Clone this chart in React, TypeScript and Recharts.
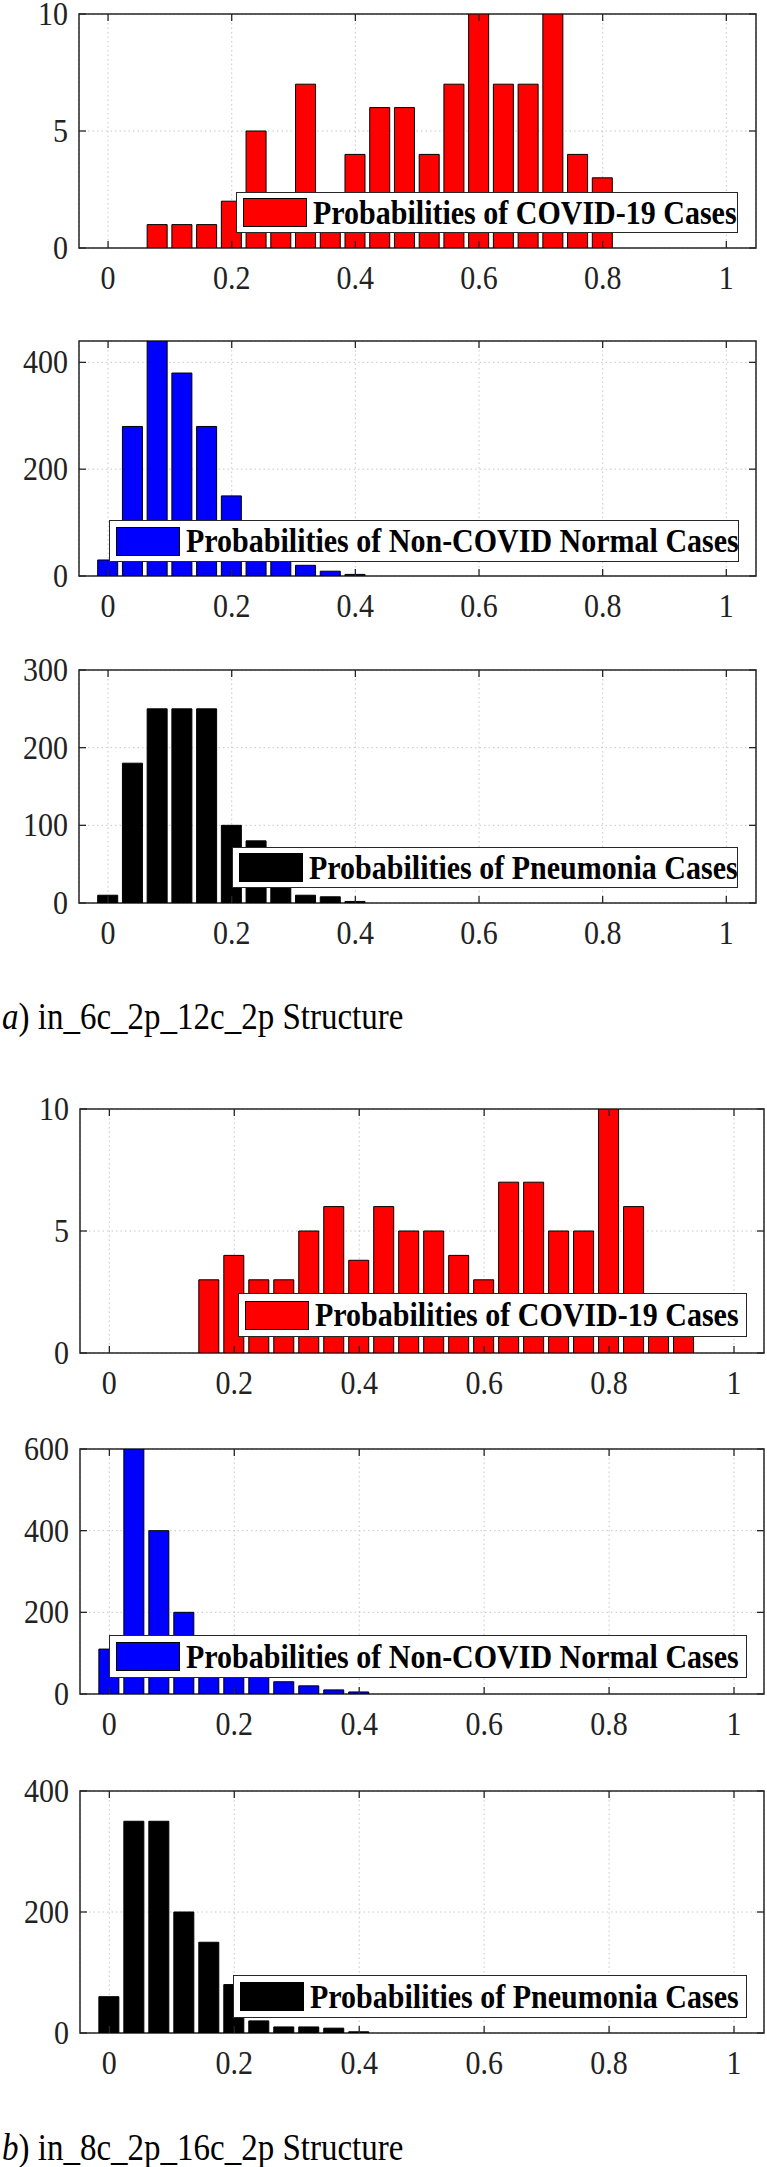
import React from 'react';
import { BarChart, Bar, XAxis, YAxis, CartesianGrid, ReferenceArea, Legend } from 'recharts';

// ---------- data ----------
const binCenters = [0, 0.04, 0.08, 0.12, 0.16, 0.2, 0.24, 0.28, 0.32, 0.36, 0.4, 0.44, 0.48, 0.52, 0.56, 0.6, 0.64, 0.68, 0.72, 0.76, 0.8, 0.84, 0.88, 0.92, 0.96, 1.0];
const xTicks = [0, 0.2, 0.4, 0.6, 0.8, 1];

// a) in_6c_2p_12c_2p
const covidA = [0, 0, 1, 1, 1, 2, 5, 2, 7, 2, 4, 6, 6, 4, 7, 10, 7, 7, 10, 4, 3, 0, 0, 0, 0, 0];
const normalA = [30, 280, 440, 380, 280, 150, 70, 45, 20, 9, 3, 0, 0, 0, 0, 0, 0, 0, 0, 0, 0, 0, 0, 0, 0, 0];
const pneumoniaA = [10, 180, 250, 250, 250, 100, 80, 40, 10, 8, 2, 0, 0, 0, 0, 0, 0, 0, 0, 0, 0, 0, 0, 0, 0, 0];

// b) in_8c_2p_16c_2p
const covidB = [0, 0, 0, 0, 3, 4, 3, 3, 5, 6, 3.8, 6, 5, 5, 4, 3, 7, 7, 5, 5, 10, 6, 2, 1, 0, 0];
const normalB = [110, 600, 400, 200, 100, 70, 50, 30, 20, 10, 5, 0, 0, 0, 0, 0, 0, 0, 0, 0, 0, 0, 0, 0, 0, 0];
const pneumoniaB = [60, 350, 350, 200, 150, 80, 20, 10, 10, 8, 2, 0, 0, 0, 0, 0, 0, 0, 0, 0, 0, 0, 0, 0, 0, 0];

const yTicksCovid = [0, 5, 10];
const yTicksNormalA = [0, 200, 400];
const yTicksPneumoniaA = [0, 100, 200, 300];
const yTicksNormalB = [0, 200, 400, 600];
const yTicksPneumoniaB = [0, 200, 400];

const labelCovid = 'Probabilities of COVID-19 Cases';
const labelNormal = 'Probabilities of Non-COVID Normal Cases';
const labelPneumonia = 'Probabilities of Pneumonia Cases';

const captionA = 'in_6c_2p_12c_2p Structure';
const captionB = 'in_8c_2p_16c_2p Structure';

// ---------- styling / layout ----------
const FONT = '"Liberation Serif", "Times New Roman", Times, serif';
const AXIS_COLOR = '#262626';
const X_DOMAIN: [number, number] = [-0.047, 1.048];
const PAD_TOP = 22;
const PAD_BOTTOM = 52;
const W = 767;
const STRETCH = 1.12;

const toRows = (vals: number[]) => binCenters.map((x, i) => ({ x, v: vals[i] }));

type PanelCfg = {
  values: number[];
  ymax: number;
  yTicks: number[];
  color: string;
  label: string;
  plotTop: number;
  plotBottom: number;
  plotLeft: number;
  plotRight: number;
  legend: { left: number; top: number; right: number; bottom: number };
};

const panels: PanelCfg[] = [
  { values: covidA, ymax: 10, yTicks: yTicksCovid, color: '#ff0000', label: labelCovid, plotTop: 14, plotBottom: 248, plotLeft: 79, plotRight: 756, legend: { left: 236, top: 192, right: 738, bottom: 233 } },
  { values: normalA, ymax: 440, yTicks: yTicksNormalA, color: '#0000ff', label: labelNormal, plotTop: 341, plotBottom: 576, plotLeft: 79, plotRight: 756, legend: { left: 109, top: 520, right: 739, bottom: 562 } },
  { values: pneumoniaA, ymax: 300, yTicks: yTicksPneumoniaA, color: '#000000', label: labelPneumonia, plotTop: 670, plotBottom: 903, plotLeft: 79, plotRight: 756, legend: { left: 232, top: 847, right: 738, bottom: 888 } },
  { values: covidB, ymax: 10, yTicks: yTicksCovid, color: '#ff0000', label: labelCovid, plotTop: 1109, plotBottom: 1353, plotLeft: 80, plotRight: 764, legend: { left: 238, top: 1293, right: 747, bottom: 1337 } },
  { values: normalB, ymax: 600, yTicks: yTicksNormalB, color: '#0000ff', label: labelNormal, plotTop: 1449, plotBottom: 1694, plotLeft: 80, plotRight: 764, legend: { left: 109, top: 1635, right: 747, bottom: 1678 } },
  { values: pneumoniaB, ymax: 400, yTicks: yTicksPneumoniaB, color: '#000000', label: labelPneumonia, plotTop: 1791, plotBottom: 2033, plotLeft: 80, plotRight: 764, legend: { left: 233, top: 1975, right: 747, bottom: 2018 } },
];

const makeXTick = (plotH: number) => (props: any) => {
  const { x, y, payload } = props;
  return (
    <g>
      <line x1={x} x2={x} y1={y} y2={y - 7} stroke={AXIS_COLOR} strokeWidth={1.3} />
      <line x1={x} x2={x} y1={y - plotH} y2={y - plotH + 7} stroke={AXIS_COLOR} strokeWidth={1.3} />
      <text
        transform={`translate(${x},${y + 30}) scale(1,${STRETCH})`}
        x={0}
        y={0}
        textAnchor="middle"
        dominantBaseline="central"
        fontFamily={FONT}
        fontSize={30}
        fill="#222"
      >
        {String(payload.value)}
      </text>
    </g>
  );
};

const makeYTick = (plotW: number) => (props: any) => {
  const { x, y, payload } = props;
  return (
    <g>
      <line x1={x} x2={x + 7} y1={y} y2={y} stroke={AXIS_COLOR} strokeWidth={1.3} />
      <line x1={x + plotW} x2={x + plotW - 7} y1={y} y2={y} stroke={AXIS_COLOR} strokeWidth={1.3} />
      <text
        transform={`translate(${x - 11},${y}) scale(1,${STRETCH})`}
        x={0}
        y={0}
        textAnchor="end"
        dominantBaseline="central"
        fontFamily={FONT}
        fontSize={30}
        fill="#222"
      >
        {String(payload.value)}
      </text>
    </g>
  );
};

const LegendContent = ({ payload, color, w, h }: any) => {
  const name = payload && payload[0] ? payload[0].value : '';
  return (
    <div
      style={{
        boxSizing: 'border-box',
        width: w,
        height: h,
        border: `1.5px solid ${AXIS_COLOR}`,
        background: '#fff',
        display: 'flex',
        alignItems: 'center',
        paddingLeft: 6,
      }}
    >
      <div style={{ boxSizing: 'border-box', width: 64, height: 29, background: color, border: '1.5px solid #000', flex: 'none' }} />
      <span
        style={{
          display: 'inline-block',
          marginLeft: 6,
          fontFamily: FONT,
          fontWeight: 'bold',
          fontSize: 30,
          whiteSpace: 'nowrap',
          color: '#000',
          lineHeight: 1,
          transform: `scaleY(${STRETCH})`,
        }}
      >
        {name}
      </span>
    </div>
  );
};

const Panel = ({ cfg }: { cfg: PanelCfg }) => {
  const plotH = cfg.plotBottom - cfg.plotTop;
  const plotW = cfg.plotRight - cfg.plotLeft;
  const chartTop = cfg.plotTop - PAD_TOP;
  const height = plotH + PAD_TOP + PAD_BOTTOM;
  const lg = cfg.legend;
  return (
    <div style={{ position: 'absolute', left: 0, top: chartTop, width: W, height }}>
      <BarChart
        width={W}
        height={height}
        data={toRows(cfg.values)}
        margin={{ top: PAD_TOP, right: W - cfg.plotRight, bottom: 0, left: 0 }}
        style={{ overflow: 'visible' }}
      >
        <CartesianGrid stroke="#c8c8c8" strokeDasharray="1.5 3" strokeWidth={1} />
        <XAxis
          dataKey="x"
          type="number"
          domain={X_DOMAIN}
          ticks={xTicks}
          interval={0}
          allowDataOverflow
          height={PAD_BOTTOM}
          axisLine={false}
          tickLine={false}
          tickSize={0}
          tickMargin={0}
          tick={makeXTick(plotH)}
        />
        <YAxis
          type="number"
          domain={[0, cfg.ymax]}
          ticks={cfg.yTicks}
          interval={0}
          allowDataOverflow
          width={cfg.plotLeft}
          axisLine={false}
          tickLine={false}
          tickSize={0}
          tickMargin={0}
          tick={makeYTick(plotW)}
        />
        <Bar dataKey="v" name={cfg.label} fill={cfg.color} stroke="#000" strokeWidth={1} barSize={20} isAnimationActive={false} />
        <ReferenceArea
          x1={X_DOMAIN[0]}
          x2={X_DOMAIN[1]}
          y1={0}
          y2={cfg.ymax}
          fill="none"
          fillOpacity={0}
          stroke={AXIS_COLOR}
          strokeWidth={1.5}
          ifOverflow="visible"
        />
        <Legend
          layout="horizontal"
          verticalAlign="middle"
          align="center"
          wrapperStyle={{ position: 'absolute', left: lg.left, top: lg.top - chartTop, width: lg.right - lg.left, height: lg.bottom - lg.top }}
          content={(p: any) => <LegendContent payload={p.payload} color={cfg.color} w={lg.right - lg.left} h={lg.bottom - lg.top} />}
        />
      </BarChart>
    </div>
  );
};

const Caption = ({ letter, text, centerY }: { letter: string; text: string; centerY: number }) => (
  <div
    style={{
      position: 'absolute',
      left: 2,
      top: centerY - 20,
      height: 40,
      lineHeight: '40px',
      fontFamily: FONT,
      fontSize: 33,
      color: '#000',
      whiteSpace: 'nowrap',
      transform: `scaleY(${STRETCH})`,
      transformOrigin: 'left center',
    }}
  >
    <i>{letter}</i>) {text}
  </div>
);

export default function App() {
  return (
    <div style={{ position: 'absolute', left: 0, top: 0, width: W, height: 2167, background: '#fff', overflow: 'hidden' }}>
      {panels.map((cfg, i) => (
        <Panel key={i} cfg={cfg} />
      ))}
      <Caption letter="a" text={captionA} centerY={1017} />
      <Caption letter="b" text={captionB} centerY={2148} />
    </div>
  );
}
